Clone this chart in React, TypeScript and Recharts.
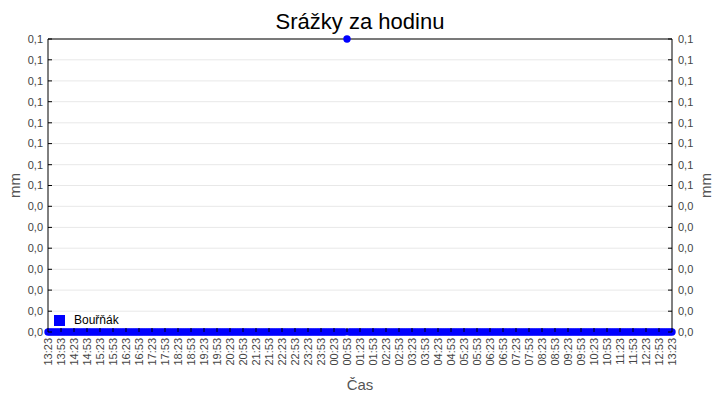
import { LineChart, Line, XAxis, YAxis, CartesianGrid, ReferenceLine } from 'recharts';

// srážky po 5 minutách, 13:23 -> 13:23 (12 hodnot na řádek = 1 hodina)
const rain = [
  0, 0, 0, 0, 0, 0, 0, 0, 0, 0, 0, 0,
  0, 0, 0, 0, 0, 0, 0, 0, 0, 0, 0, 0,
  0, 0, 0, 0, 0, 0, 0, 0, 0, 0, 0, 0,
  0, 0, 0, 0, 0, 0, 0, 0, 0, 0, 0, 0,
  0, 0, 0, 0, 0, 0, 0, 0, 0, 0, 0, 0,
  0, 0, 0, 0, 0, 0, 0, 0, 0, 0, 0, 0,
  0, 0, 0, 0, 0, 0, 0, 0, 0, 0, 0, 0,
  0, 0, 0, 0, 0, 0, 0, 0, 0, 0, 0, 0,
  0, 0, 0, 0, 0, 0, 0, 0, 0, 0, 0, 0,
  0, 0, 0, 0, 0, 0, 0, 0, 0, 0, 0, 0,
  0, 0, 0, 0, 0, 0, 0, 0, 0, 0, 0, 0,
  0, 0, 0, 0, 0, 0, 0.1, 0, 0, 0, 0, 0,
  0, 0, 0, 0, 0, 0, 0, 0, 0, 0, 0, 0,
  0, 0, 0, 0, 0, 0, 0, 0, 0, 0, 0, 0,
  0, 0, 0, 0, 0, 0, 0, 0, 0, 0, 0, 0,
  0, 0, 0, 0, 0, 0, 0, 0, 0, 0, 0, 0,
  0, 0, 0, 0, 0, 0, 0, 0, 0, 0, 0, 0,
  0, 0, 0, 0, 0, 0, 0, 0, 0, 0, 0, 0,
  0, 0, 0, 0, 0, 0, 0, 0, 0, 0, 0, 0,
  0, 0, 0, 0, 0, 0, 0, 0, 0, 0, 0, 0,
  0, 0, 0, 0, 0, 0, 0, 0, 0, 0, 0, 0,
  0, 0, 0, 0, 0, 0, 0, 0, 0, 0, 0, 0,
  0, 0, 0, 0, 0, 0, 0, 0, 0, 0, 0, 0,
  0, 0, 0, 0, 0, 0, 0, 0, 0, 0, 0, 0,
  0,
];

const xTickLabels = [
  '13:23', '13:53', '14:23', '14:53', '15:23', '15:53', '16:23', '16:53', '17:23', '17:53',
  '18:23', '18:53', '19:23', '19:53', '20:23', '20:53', '21:23', '21:53', '22:23', '22:53',
  '23:23', '23:53', '00:23', '00:53', '01:23', '01:53', '02:23', '02:53', '03:23', '03:53',
  '04:23', '04:53', '05:23', '05:53', '06:23', '06:53', '07:23', '07:53', '08:23', '08:53',
  '09:23', '09:53', '10:23', '10:53', '11:23', '11:53', '12:23', '12:53', '13:23',
];

const yTicks = [0, 0.0071, 0.0143, 0.0214, 0.0286, 0.0357, 0.0429, 0.05, 0.0571, 0.0643, 0.0714, 0.0786, 0.0857, 0.0929, 0.1];
const yTickLabels = ['0,0', '0,0', '0,0', '0,0', '0,0', '0,0', '0,0', '0,1', '0,1', '0,1', '0,1', '0,1', '0,1', '0,1', '0,1'];

const STEP = 5; // minut mezi měřeními
const data = rain.map((v, i) => ({ t: i * STEP, v }));
const xTicks = xTickLabels.map((_, i) => i * 30);

const FONT = '"Liberation Sans", Arial, sans-serif';
const BLUE = '#0000ff';

const XTick = ({ x, y, index }: any) => (
  <g>
    <line x1={x} y1={y} x2={x} y2={y - 4} stroke="#000" />
    <text
      transform={`translate(${x + 4},${y + 6}) rotate(-90)`}
      textAnchor="end"
      fontSize={11}
      fontFamily={FONT}
      fill="#444"
    >
      {xTickLabels[index]}
    </text>
  </g>
);

const YTickLeft = ({ x, y, index }: any) => (
  <g>
    <line x1={x} y1={y} x2={x + 4} y2={y} stroke="#000" />
    <text x={x - 5} y={y} dy="0.35em" textAnchor="end" fontSize={11} fontFamily={FONT} fill="#444">
      {yTickLabels[index]}
    </text>
  </g>
);

const YTickRight = ({ x, y, index }: any) => (
  <g>
    <line x1={x} y1={y} x2={x - 4} y2={y} stroke="#000" />
    <text x={x + 6} y={y} dy="0.35em" textAnchor="start" fontSize={11} fontFamily={FONT} fill="#444">
      {yTickLabels[index]}
    </text>
  </g>
);

export default function App() {
  return (
    <div style={{ position: 'absolute', left: 0, top: 0, width: 720, height: 400, background: '#fff' }}>
      <div
        style={{
          position: 'absolute',
          left: 0,
          top: 8,
          width: 720,
          textAlign: 'center',
          fontFamily: FONT,
          fontSize: 22,
          lineHeight: '28px',
          color: '#000',
        }}
      >
        Srážky za hodinu
      </div>
      <LineChart width={720} height={400} data={data} margin={{ top: 39, right: 0, left: 0, bottom: 0 }}>
        <CartesianGrid vertical={false} stroke="#e8e8e8" yAxisId="left" />
        <XAxis
          dataKey="t"
          type="number"
          domain={[0, 1440]}
          ticks={xTicks}
          interval={0}
          height={68}
          tickSize={0}
          tickMargin={0}
          tick={<XTick />}
          axisLine={{ stroke: '#000' }}
          tickLine={false}
          label={{ value: 'Čas', position: 'insideBottom', offset: 10, fontSize: 15, fontFamily: FONT, fill: '#555' }}
        />
        <YAxis
          yAxisId="left"
          orientation="left"
          type="number"
          domain={[0, 0.1]}
          ticks={yTicks}
          interval={0}
          width={48}
          tickSize={0}
          tickMargin={0}
          tick={<YTickLeft />}
          axisLine={{ stroke: '#000' }}
          tickLine={false}
          label={{ value: 'mm', angle: -90, position: 'center', dx: -9, fontSize: 15, fontFamily: FONT, fill: '#555' }}
        />
        <YAxis
          yAxisId="right"
          orientation="right"
          type="number"
          domain={[0, 0.1]}
          ticks={yTicks}
          interval={0}
          width={48}
          tickSize={0}
          tickMargin={0}
          tick={<YTickRight />}
          axisLine={{ stroke: '#000' }}
          tickLine={false}
          label={{ value: 'mm', angle: -90, position: 'center', dx: 10, fontSize: 15, fontFamily: FONT, fill: '#555' }}
        />
        <ReferenceLine yAxisId="left" y={0.1} stroke="#000" />
        {/* neviditelná řada jen kvůli pravé ose */}
        <Line
          yAxisId="right"
          dataKey="v"
          stroke="none"
          dot={false}
          activeDot={false}
          legendType="none"
          isAnimationActive={false}
        />
        <Line
          yAxisId="left"
          dataKey="v"
          name="Bouřňák"
          stroke="none"
          strokeWidth={0}
          dot={{ r: 3.7, fill: BLUE, stroke: 'none' }}
          activeDot={false}
          isAnimationActive={false}
        />
      </LineChart>
      <div
        style={{
          position: 'absolute',
          left: 54,
          top: 313,
          display: 'flex',
          alignItems: 'center',
          fontFamily: FONT,
          fontSize: 12,
          color: '#000',
        }}
      >
        <span style={{ display: 'inline-block', width: 11, height: 11, background: BLUE, marginRight: 9 }} />
        Bouřňák
      </div>
    </div>
  );
}
